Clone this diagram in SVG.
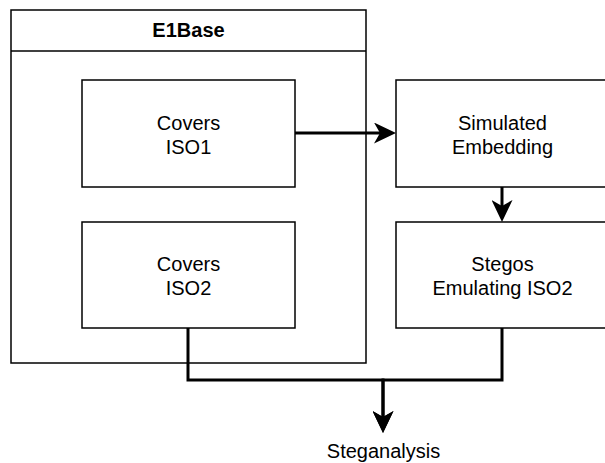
<svg xmlns="http://www.w3.org/2000/svg" width="605" height="463" viewBox="0 0 605 463">
<style>
.box{fill:#fff;stroke:#000;stroke-width:1.5}
.t{font-family:"Liberation Sans",Arial,sans-serif;font-size:20px;fill:#000;text-anchor:middle}
.b{font-weight:bold}
.c{fill:none;stroke:#000;stroke-width:3;stroke-linejoin:miter}
</style>
<defs>
<marker id="ah" viewBox="0 0 22 21" markerWidth="22" markerHeight="21" refX="6" refY="10.5" orient="auto" markerUnits="userSpaceOnUse">
<polygon points="0,0 22,10.5 0,21 6,10.5" fill="#000"/>
</marker>
</defs>
<rect width="605" height="463" fill="#fff"/>
<g id="e1base">
<rect class="box" x="11" y="10" width="355" height="353"/>
<line x1="11" y1="51" x2="366" y2="51" stroke="#000" stroke-width="1.5"/>
<text class="t b" x="188.5" y="37">E1Base</text>
</g>
<g id="covers-iso1">
<rect class="box" x="82" y="80" width="213" height="107"/>
<text class="t" x="188.5" y="130">Covers</text>
<text class="t" x="188.5" y="154">ISO1</text>
</g>
<g id="covers-iso2">
<rect class="box" x="82" y="222" width="213" height="106"/>
<text class="t" x="188.5" y="271">Covers</text>
<text class="t" x="188.5" y="295">ISO2</text>
</g>
<g id="simulated-embedding">
<rect class="box" x="396" y="80" width="213" height="107"/>
<text class="t" x="502.5" y="130">Simulated</text>
<text class="t" x="502.5" y="154">Embedding</text>
</g>
<g id="stegos">
<rect class="box" x="396" y="222" width="213" height="106"/>
<text class="t" x="502.5" y="271">Stegos</text>
<text class="t" x="502.5" y="295">Emulating ISO2</text>
</g>
<g id="steganalysis">
<text class="t" x="383.5" y="458">Steganalysis</text>
</g>
<g id="connectors">
<path class="c" d="M295,133 H380" marker-end="url(#ah)"/>
<path class="c" d="M502,187 V206" marker-end="url(#ah)"/>
<path class="c" d="M188,328 V380 H383 V417" marker-end="url(#ah)"/>
<path class="c" d="M502,328 V380 H383 V417" marker-end="url(#ah)"/>
</g>
</svg>
